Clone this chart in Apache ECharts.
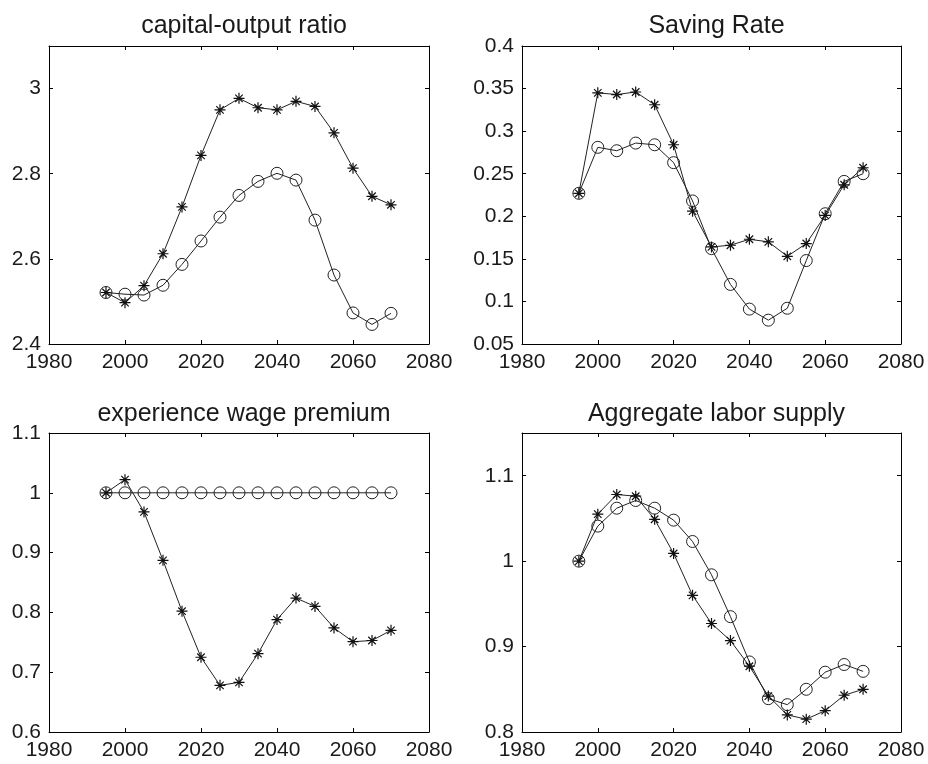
<!DOCTYPE html>
<html><head><meta charset="utf-8">
<script src="https://cdn.jsdelivr.net/npm/echarts@6/dist/echarts.min.js"></script>
<style>html,body{margin:0;padding:0;background:#fff}#c{width:928px;height:764px}</style>
</head><body><div id="c"></div>
<script>
const years = [1995,2000,2005,2010,2015,2020,2025,2030,2035,2040,2045,2050,2055,2060,2065,2070];
const titles = ['capital-output ratio','Saving Rate','experience wage premium','Aggregate labor supply'];
const xTicks = [1980,2000,2020,2040,2060,2080];

const kyStar   = [2.521,2.497,2.537,2.612,2.722,2.843,2.950,2.977,2.955,2.950,2.970,2.958,2.896,2.813,2.747,2.727];
const kyCircle = [2.521,2.517,2.515,2.538,2.587,2.642,2.698,2.749,2.782,2.801,2.785,2.691,2.562,2.473,2.446,2.472];

const saveStar   = [0.227,0.345,0.343,0.346,0.331,0.284,0.206,0.164,0.166,0.173,0.170,0.153,0.168,0.201,0.237,0.257];
const saveCircle = [0.227,0.281,0.277,0.286,0.284,0.263,0.218,0.162,0.120,0.091,0.078,0.092,0.148,0.203,0.241,0.250];

const wageStar   = [1.000,1.022,0.968,0.887,0.802,0.725,0.678,0.683,0.731,0.788,0.824,0.810,0.774,0.751,0.753,0.770];
const wageCircle = [1,1,1,1,1,1,1,1,1,1,1,1,1,1,1,1];

const laborStar   = [1.000,1.055,1.078,1.076,1.049,1.009,0.960,0.927,0.907,0.877,0.842,0.820,0.815,0.825,0.843,0.850];
const laborCircle = [1.000,1.041,1.062,1.071,1.062,1.048,1.023,0.984,0.935,0.882,0.839,0.832,0.850,0.870,0.879,0.871];

const yMin = [2.4, 0.05, 0.6, 0.8];
const yMax = [3.1, 0.4, 1.1, 1.15];
const yInt = [0.2, 0.05, 0.1, 0.1];

const starData = [kyStar, saveStar, wageStar, laborStar];
const circData = [kyCircle, saveCircle, wageCircle, laborCircle];

const grids = [
  {left:49, top:46, width:380, height:298},
  {left:522, top:46, width:379, height:298},
  {left:49, top:433, width:380, height:299},
  {left:522, top:433, width:379, height:299}
];
const titleTops = [9, 9, 397, 397];

const FONT = 'Liberation Sans, Arial, Helvetica, sans-serif';
const TXT = '#1a1a1a';
const starPath = 'path://M5 0L5 10M0 5L10 5M1.6 1.6L8.4 8.4M1.6 8.4L8.4 1.6';

const option = {
  animation:false,
  backgroundColor:'#fff',
  title: grids.map((g,i)=>({
    text: titles[i], left: g.left + g.width/2, top: titleTops[i], textAlign:'center',
    textStyle:{fontFamily:FONT, fontSize:25, fontWeight:'normal', color:TXT}
  })),
  grid: grids.map(g=>Object.assign({containLabel:false}, g)),
  xAxis: [],
  yAxis: [],
  series: []
};

grids.forEach((g,i)=>{
  const axLine = {show:true, onZero:false, lineStyle:{color:'#000', width:1}};
  const tick = {show:true, inside:true, length:4, lineStyle:{color:'#000', width:1}};
  option.xAxis.push({
    type:'value', gridIndex:i, min:1980, max:2080, interval:20, position:'bottom',
    axisLine:axLine, axisTick:tick, splitLine:{show:false},
    axisLabel:{show:true, margin:8, fontFamily:FONT, fontSize:21, color:TXT,
      formatter:v=>xTicks.includes(v)?String(v):''}
  });
  option.xAxis.push({
    type:'value', gridIndex:i, min:1980, max:2080, interval:20, position:'top',
    axisLine:axLine, axisTick:tick, splitLine:{show:false}, axisLabel:{show:false}
  });
  option.yAxis.push({
    type:'value', gridIndex:i, min:yMin[i], max:yMax[i], interval:yInt[i], position:'left',
    axisLine:axLine, axisTick:tick, splitLine:{show:false},
    axisLabel:{show:true, showMaxLabel: (i===1||i===2), margin:8, fontFamily:FONT, fontSize:21, color:TXT,
      formatter:v=>String(parseFloat(v.toFixed(3)))}
  });
  option.yAxis.push({
    type:'value', gridIndex:i, min:yMin[i], max:yMax[i], interval:yInt[i], position:'right',
    axisLine:axLine, axisTick:tick, splitLine:{show:false}, axisLabel:{show:false}
  });
  option.series.push({
    type:'line', xAxisIndex:2*i, yAxisIndex:2*i,
    data: years.map((y,k)=>[y, circData[i][k]]),
    symbol:'circle', symbolSize:12, showAllSymbol:true,
    lineStyle:{color:'#222', width:1},
    itemStyle:{color:'rgba(0,0,0,0)', borderColor:'#222', borderWidth:1},
    z:2
  });
  option.series.push({
    type:'line', xAxisIndex:2*i, yAxisIndex:2*i,
    data: years.map((y,k)=>[y, starData[i][k]]),
    symbol:starPath, symbolSize:11, showAllSymbol:true,
    lineStyle:{color:'#222', width:1},
    itemStyle:{color:'rgba(0,0,0,0)', borderColor:'#111', borderWidth:1.2},
    z:3
  });
});

const chart = echarts.init(document.getElementById('c'), null, {renderer:'canvas'});
chart.setOption(option);
</script>
</body></html>
